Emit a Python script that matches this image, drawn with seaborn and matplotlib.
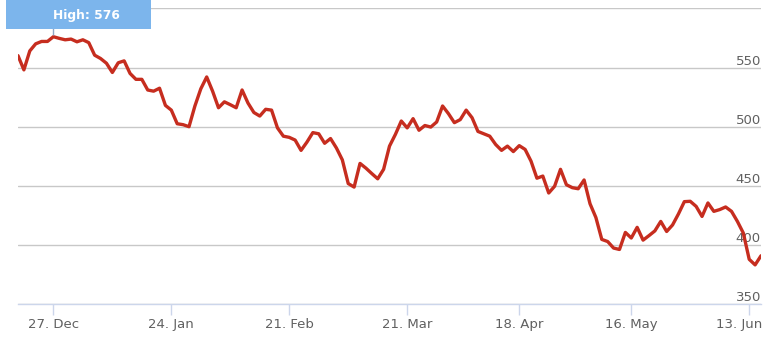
import numpy as np
import pandas as pd
import matplotlib
matplotlib.use("Agg")
import matplotlib.pyplot as plt
from matplotlib.patches import Rectangle
from matplotlib.transforms import ScaledTranslation
import seaborn as sns

# ---- data (trading-day index -> price) ----
prices = [
    560, 548, 564, 570, 572, 572, 576, 574.6, 573.4, 574,
    571.7, 573.4, 571, 560.4, 557.6, 553.6, 545.8, 554, 555.6, 545,
    540, 540, 531, 530, 532.5, 518, 514, 502.5, 501.7, 500,
    517.5, 532, 542, 530, 516, 521, 518.6, 516, 531, 520,
    512, 509, 514.7, 514, 499, 492, 491, 488.7, 480, 487,
    495, 494, 486, 490, 482, 472, 452, 449, 469, 465,
    460.4, 456, 464, 483.6, 493.5, 504.8, 499, 506.8, 497, 501,
    499.7, 504, 517.5, 511, 503.4, 506, 514, 507.6, 496, 494,
    492, 485, 480, 483.6, 479, 484, 480.8, 470.9, 456.5, 458.3,
    444, 449.7, 464, 451, 448.5, 447.6, 455, 435, 423.3, 404.8,
    403, 397.5, 396.3, 410.7, 406, 415, 404.2, 408, 412, 420,
    411.5, 417, 426.3, 436.7, 437, 432.7, 424.2, 435.6, 428.5, 430,
    432.2, 428.5, 420, 410.2, 388, 383.3, 391,
]
day_index = list(range(len(prices)))

x_tick_pos = [6, 26, 46, 66, 85, 104, 124]
x_tick_labels = ["27. Dec", "24. Jan", "21. Feb", "21. Mar", "18. Apr", "16. May", "13. Jun"]
y_ticks = [350, 400, 450, 500, 550, 600]
y_tick_labels = ["350", "400", "450", "500", "550", ""]

df = pd.DataFrame({"day": day_index, "price": prices})

# ---- figure ----
sns.set_style("white")
plt.rcParams["font.family"] = ["DejaVu Sans"]

W, H = 779, 352
DPI = 100
fig = plt.figure(figsize=(W / DPI, H / DPI), dpi=DPI)
left, right, top, bottom = 18, 761, 8.3, 304.3
ax = fig.add_axes([left / W, (H - bottom) / H, (right - left) / W, (bottom - top) / H])

sns.lineplot(data=df, x="day", y="price", ax=ax, color="#c62d1f", linewidth=2.4, zorder=3)

ax.set_xlim(0, len(prices) - 1)
ax.set_ylim(350, 600)
ax.set_xlabel("")
ax.set_ylabel("")

# grid
ax.set_yticks(y_ticks)
ax.set_yticklabels(y_tick_labels)
ax.yaxis.grid(True, color="#c8c8c8", linewidth=1)
ax.xaxis.grid(False)
ax.set_axisbelow(True)

for s in ["left", "right", "top"]:
    ax.spines[s].set_visible(False)
ax.spines["bottom"].set_color("#ccd6eb")
ax.spines["bottom"].set_linewidth(1)
ax.spines["bottom"].set_zorder(2)

# y labels inside plot, right aligned above gridline
ax.yaxis.tick_right()
ax.tick_params(axis="y", length=0, pad=0, labelsize=9.5, labelcolor="#606060")
for lab in ax.get_yticklabels():
    lab.set_horizontalalignment("right")
    lab.set_verticalalignment("bottom")

# x ticks
ax.set_xticks(x_tick_pos)
ax.set_xticklabels(x_tick_labels)
ax.tick_params(axis="x", direction="out", length=8, width=1, color="#ccd6eb",
               pad=2, labelsize=9.5, labelcolor="#606060", bottom=True)
last = ax.get_xticklabels()[-1]
last.set_horizontalalignment("right")
last.set_transform(last.get_transform() + ScaledTranslation(13 / DPI, 0, fig.dpi_scale_trans))

# High flag
imax = int(np.argmax(prices))
vmax = prices[imax]
box_l, box_r, box_b = 6, 150.7, 29.3
fig.add_artist(Rectangle((box_l / W, (H - box_b) / H), (box_r - box_l) / W, box_b / H,
                         transform=fig.transFigure, facecolor="#7cb5ec", edgecolor="none", zorder=5))
fig.text(53 / W, (H - 15) / H, f"High: {vmax:.0f}", color="white", fontsize=8.8,
         fontweight="bold", ha="left", va="center", zorder=6)
ax.vlines(imax, vmax + 1.5, vmax + 8, colors="#8fa8c8", linewidth=1, zorder=4, clip_on=False)

fig.savefig("out.png", dpi=DPI, facecolor="white")
